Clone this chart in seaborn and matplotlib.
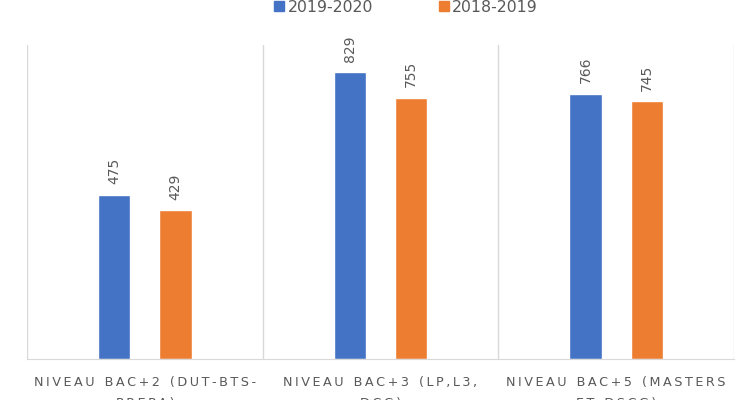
import pandas as pd
import matplotlib.pyplot as plt
import seaborn as sns

# Data
categories = ["NIVEAU BAC+2 (DUT-BTS-\nPREPA)", "NIVEAU BAC+3 (LP,L3,\nDCG)", "NIVEAU BAC+5 (MASTERS\nET DSCG)"]
years = ["2019-2020", "2018-2019"]
values_2019_2020 = [475, 829, 766]
values_2018_2019 = [429, 755, 745]
colors = ["#4472C4", "#ED7D31"]
grey = "#595959"

df = pd.DataFrame({
    "cat": categories * 2,
    "year": [years[0]] * 3 + [years[1]] * 3,
    "value": values_2019_2020 + values_2018_2019,
})

sns.set_style("white")
plt.rcParams['font.family'] = ['DejaVu Sans']

fig = plt.figure(figsize=(7.52, 4.0), dpi=100)
ax = fig.add_axes([0.036, 0.1025, 0.94, 0.785])

sns.barplot(data=df, x="cat", y="value", hue="year", palette=colors, saturation=1,
            width=0.52, gap=0.47, ax=ax, legend=False)

for cont in ax.containers:
    for bar in cont:
        h = bar.get_height()
        ax.text(bar.get_x() + bar.get_width() / 2, h + 30, f"{int(h)}",
                rotation=90, ha="center", va="bottom", color=grey, fontsize=10)

ax.set_xlim(-0.5, 2.5)
ax.set_ylim(0, 907)
ax.set_yticks([])
ax.set_xlabel("")
ax.set_ylabel("")

for s in ["top", "right", "left"]:
    ax.spines[s].set_visible(False)
ax.spines["bottom"].set_color("#D9D9D9")
for xv in [-0.5, 0.5, 1.5, 2.5]:
    ax.axvline(xv, color="#D9D9D9", lw=1, zorder=0)


def spaced(t):
    return "\n".join("\u2009".join(w if w != " " else "\u2009\u2009" for w in line) for line in t.split("\n"))


ax.set_xticks(range(3))
ax.set_xticklabels([spaced(c) for c in categories], color=grey, fontsize=9.2, linespacing=1.8)
ax.tick_params(axis="x", length=0, pad=12)

handles = [plt.Rectangle((0, 0), 1, 1, color=c) for c in colors]
fig.legend(handles, years, loc="center", bbox_to_anchor=(406 / 752, 1 - 7 / 400), ncol=2,
           frameon=False, fontsize=11.3, labelcolor=grey, handlelength=0.65, handleheight=0.65,
           columnspacing=4.2, handletextpad=0.2)

plt.savefig("out.png", dpi=100)
